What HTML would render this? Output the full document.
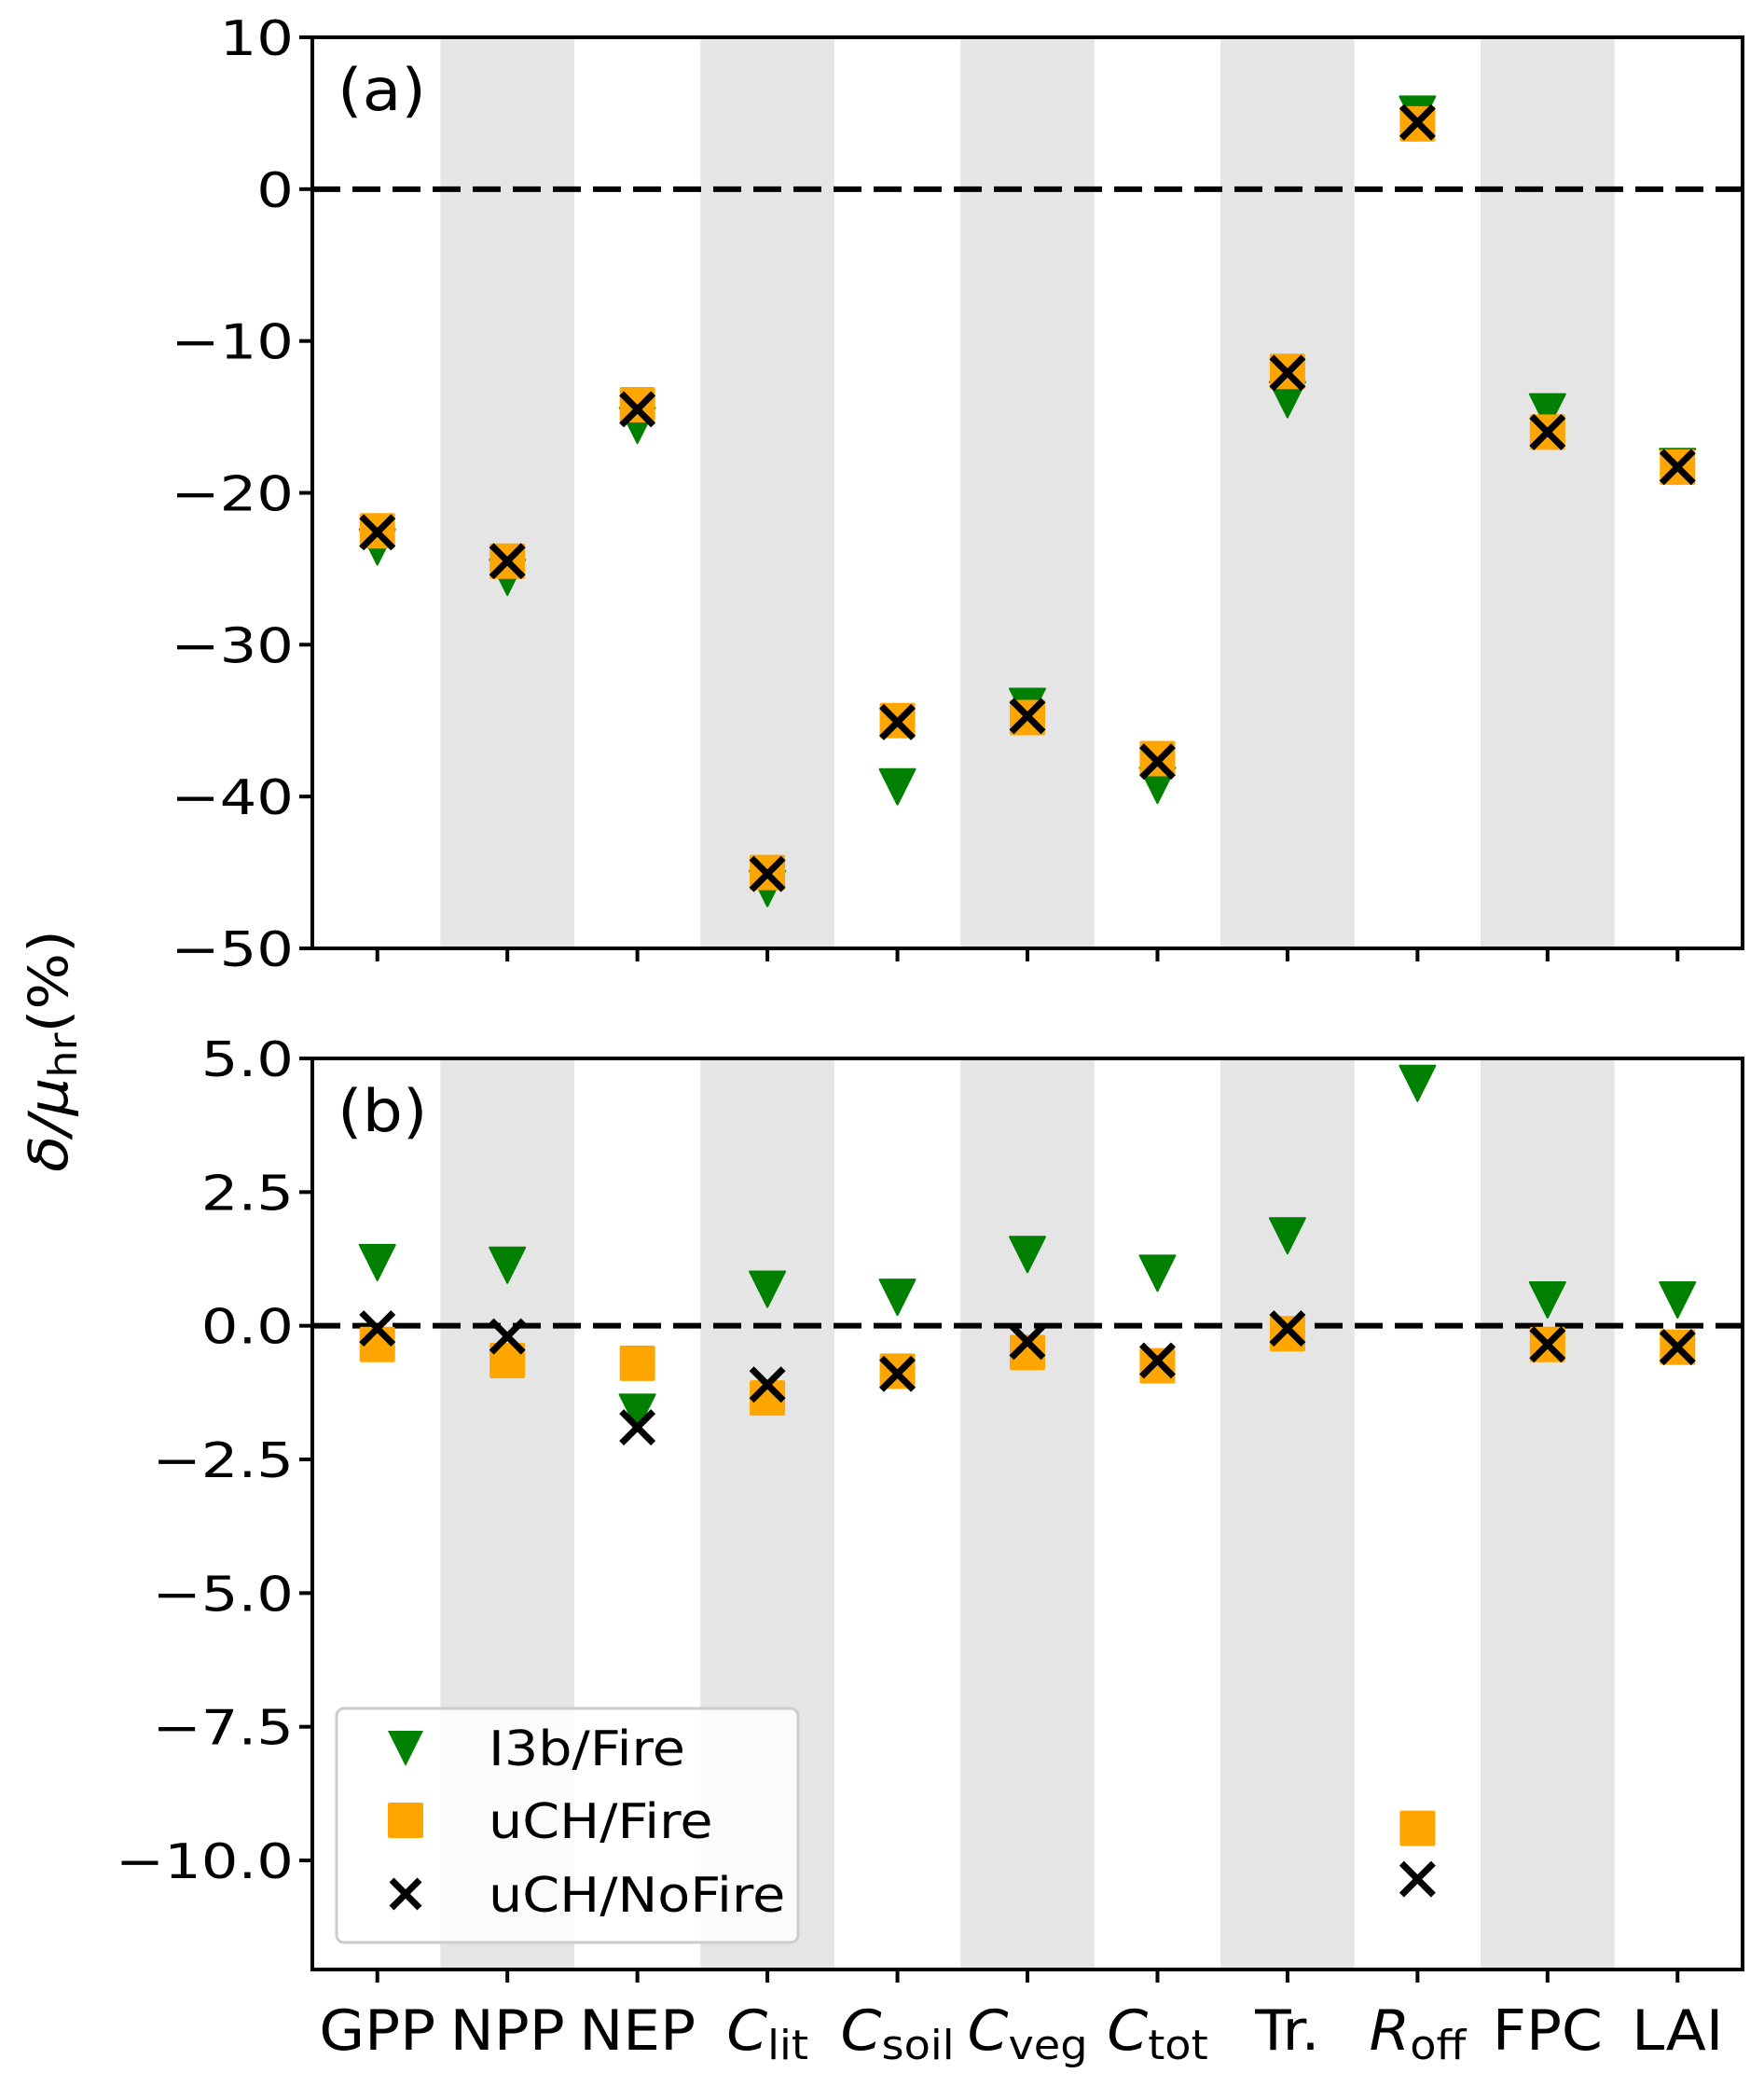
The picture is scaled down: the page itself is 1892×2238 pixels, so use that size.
<!DOCTYPE html>
<html><head><meta charset="utf-8"><style>
html,body{margin:0;padding:0;background:#fff;}
svg{display:block;font-family:"DejaVu Sans","Liberation Sans",sans-serif;}
</style></head>
<body>
<svg id="chart" width="1892" height="2238" viewBox="0 0 1892 2238" xmlns="http://www.w3.org/2000/svg"></svg>
<script>
const categories = ["GPP","NPP","NEP","C|lit","C|soil","C|veg","C|tot","Tr.","R|off","FPC","LAI"];
const aTri = [-23.5,-25.5,-15.5,-46,-39.3,-34,-39.2,-13.8,5,-14.6,-18.2];
const aSq  = [-22.5,-24.5,-14.2,-45,-35,-34.8,-37.5,-12,4.3,-16,-18.3];
const aX   = [-22.6,-24.5,-14.5,-45.1,-35.1,-34.7,-37.7,-12.1,4.4,-16,-18.3];
const bTri = [1.2,1.15,-1.6,0.7,0.55,1.35,1.0,1.7,4.55,0.5,0.5];
const bSq  = [-0.35,-0.65,-0.7,-1.35,-0.85,-0.5,-0.75,-0.15,-9.4,-0.35,-0.4];
const bX   = [-0.05,-0.2,-1.9,-1.1,-0.9,-0.3,-0.65,-0.05,-10.35,-0.35,-0.4];
const aTicks = [10,0,-10,-20,-30,-40,-50];
const bTicks = [5.0,2.5,0.0,-2.5,-5.0,-7.5,-10.0];
const legendLabels = ["I3b/Fire","uCH/Fire","uCH/NoFire"];

const NS="http://www.w3.org/2000/svg";
const svg=document.getElementById('chart');
function mk(tag,attrs,parent){const e=document.createElementNS(NS,tag);for(const k in attrs)e.setAttribute(k,attrs[k]);(parent||svg).appendChild(e);return e;}
const L=335,R=1869;
const xs=i=>L+(i+0.5)*(R-L)/categories.length;
const panels=[
 {name:'a',top:40,bot:1017,ymax:10,ymin:-50,tri:aTri,sq:aSq,x:aX,ticks:aTicks,fmt:v=>String(v).replace('-','\u2212'),label:'(a)'},
 {name:'b',top:1135,bot:2112,ymax:5,ymin:-12.04,tri:bTri,sq:bSq,x:bX,ticks:bTicks,fmt:v=>v.toFixed(1).replace('-','\u2212'),label:'(b)'}
];
const step=(R-L)/categories.length;
panels.forEach(p=>{
 const ys=v=>p.top+(p.ymax-v)*(p.bot-p.top)/(p.ymax-p.ymin);
 const g=mk('g',{});
 
 
 categories.forEach((c,i)=>{ if(i%2===1){
   const r=mk('rect',{x:xs(i)-step*0.515,y:p.top,width:step*1.03,height:p.bot-p.top,fill:'#e5e5e5'},g);
   
   
 }});
 const z=mk('line',{x1:L,x2:R,y1:ys(0),y2:ys(0),stroke:'#000','stroke-width':6,'stroke-dasharray':'30 13'},g);
 
 
 p.ticks.forEach(t=>{
   mk('line',{x1:L-14,x2:L,y1:ys(t),y2:ys(t),stroke:'#000','stroke-width':4},g);
   const tx=mk('text',{x:0,y:0,'text-anchor':'end','font-size':52,transform:`translate(${L-20},${ys(t)+19}) scale(1.2,1)`},g);
   tx.textContent=p.fmt(t);
   
   
 });
 categories.forEach((c,i)=>mk('line',{x1:xs(i),x2:xs(i),y1:p.bot,y2:p.bot+14,stroke:'#000','stroke-width':4},g));
 const lab=mk('text',{x:0,y:0,'font-size':62,transform:`translate(362,${p.top+78}) scale(1.1,1)`},g);
 lab.textContent=p.label;
 
 
 categories.forEach((c,i)=>{
   const cx=xs(i);
   let cy=ys(p.tri[i]);
   const t=mk('path',{d:`M${cx-19},${cy-18} L${cx+19},${cy-18} L${cx},${cy+20} Z`,fill:'#008000','stroke':'#008000','stroke-width':2,'stroke-linejoin':'round'},g);
   
   
   cy=ys(p.sq[i]);
   const s=mk('rect',{x:cx-19,y:cy-19,width:38,height:38,rx:2,fill:'#ffa500'},g);
   
   
   cy=ys(p.x[i]);
   const x=mk('path',{d:`M${cx-17},${cy-17} L${cx+17},${cy+17} M${cx+17},${cy-17} L${cx-17},${cy+17}`,stroke:'#000','stroke-width':7},g);
   
   
 });
 const fr=mk('rect',{x:L,y:p.top,width:R-L,height:p.bot-p.top,fill:'none',stroke:'#000','stroke-width':4},g);
 
 
});
// x labels
categories.forEach((c,i)=>{
 const t=mk('text',{x:0,y:0,'text-anchor':'middle','font-size':60,transform:`translate(${xs(i)},2198) scale(1.05,1)`});
 
 
 const parts=c.split('|');
 if(parts.length===2){
   const a=mk('tspan',{'font-style':'italic'},t);a.textContent=parts[0];
   const b=mk('tspan',{'font-size':44,dy:10},t);b.textContent=parts[1];
 } else t.textContent=c;
});
// y label
const yl=mk('text',{x:0,y:0,'text-anchor':'middle','font-size':58,transform:'translate(72,1127) rotate(-90) scale(1.1,1)'});


{const a=mk('tspan',{'font-style':'italic'},yl);a.textContent='δ/μ';
 const b=mk('tspan',{'font-size':42,dy:10},yl);b.textContent='hr';
 const c=mk('tspan',{dy:-10},yl);c.textContent='(%)';}
// legend
const lg=mk('g',{});


mk('rect',{x:361,y:1832,width:495,height:251,rx:8,fill:'#fff','fill-opacity':0.85,stroke:'#ccc','stroke-width':3},lg);
const ly=[1874,1952,2031];
legendLabels.forEach((l,k)=>{
 const cx=435,cy=ly[k];
 let m;
 if(k===0) m=mk('path',{d:`M${cx-19},${cy-18} L${cx+19},${cy-18} L${cx},${cy+20} Z`,fill:'#008000'},lg);
 else if(k===1) m=mk('rect',{x:cx-19,y:cy-19,width:38,height:38,rx:2,fill:'#ffa500'},lg);
 else m=mk('path',{d:`M${cx-15},${cy-15} L${cx+15},${cy+15} M${cx+15},${cy-15} L${cx-15},${cy+15}`,stroke:'#000','stroke-width':7},lg);
 
 
 const t=mk('text',{x:0,y:0,'font-size':52,transform:`translate(524,${cy+19}) scale(1.1,1)`},lg);
 t.textContent=l;
 
 
});
</script>
</body></html>
